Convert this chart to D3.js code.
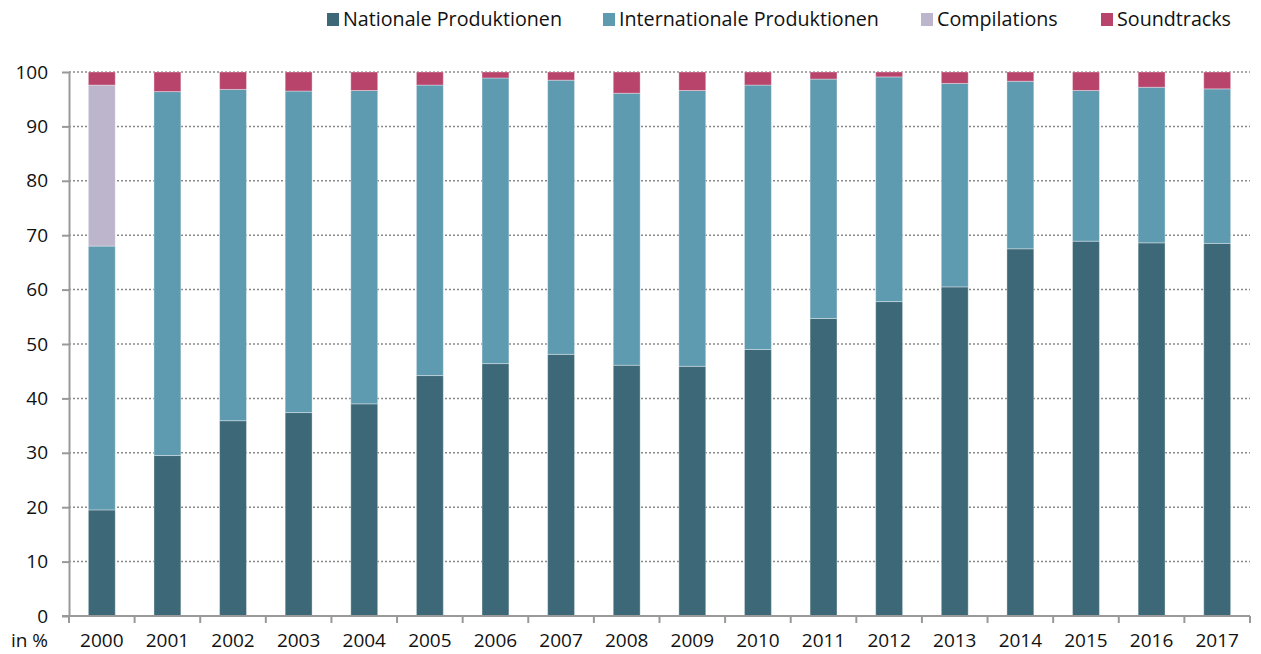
<!DOCTYPE html>
<html><head><meta charset="utf-8">
<script src="https://cdn.jsdelivr.net/npm/d3@7"></script>
<style>body{margin:0;background:#fff;}svg{display:block;font-family:"Open Sans",sans-serif;}</style>
</head><body><svg id="c" width="1261" height="654"></svg>
<script>
const years = ["2000","2001","2002","2003","2004","2005","2006","2007","2008","2009","2010","2011","2012","2013","2014","2015","2016","2017"];
const national = [19.5,29.5,35.9,37.4,39.0,44.2,46.4,48.1,46.1,45.9,49.0,54.7,57.8,60.5,67.5,68.9,68.6,68.5];
const international = [48.5,66.9,60.9,59.1,57.6,53.4,52.5,50.4,50.0,50.7,48.6,44.0,41.3,37.4,30.8,27.7,28.6,28.4];
const compilations = [29.6,0,0,0,0,0,0,0,0,0,0,0,0,0,0,0,0,0];
const soundtracks = [2.4,3.6,3.2,3.5,3.4,2.4,1.1,1.5,3.9,3.4,2.4,1.3,0.9,2.1,1.7,3.4,2.8,3.1];
const seriesNames = ["Nationale Produktionen","Internationale Produktionen","Compilations","Soundtracks"];
const colors = ["#3d6878","#5e9ab0","#bdb5cb","#b8446c"];
const yTicks = [0,10,20,30,40,50,60,70,80,90,100];

const svg = d3.select("#c");
const m = {l:69, r:11, t:72, b:38};
const W = 1261, H = 654;
const x = d3.scaleBand().domain(years).range([m.l, W-m.r]).paddingInner(0.59).paddingOuter(0.295);
const y = d3.scaleLinear().domain([0,100]).range([H-m.b, m.t]);

// gridlines
svg.append("g").selectAll("line").data(yTicks.filter(d=>d>0)).join("line")
  .attr("x1", m.l).attr("x2", W-m.r).attr("y1", d=>y(d)).attr("y2", d=>y(d))
  .attr("stroke","#8a8a8a").attr("stroke-width",1.5).attr("stroke-dasharray","2,2");

const table = years.map((yr,i)=>({year:yr, s0:national[i], s1:international[i], s2:compilations[i], s3:soundtracks[i]}));
const stack = d3.stack().keys(["s0","s1","s2","s3"])(table);
svg.append("g").selectAll("g").data(stack).join("g").attr("fill",(d,i)=>colors[i])
  .selectAll("rect").data(d=>d.filter(p=>p[1]-p[0]>0)).join("rect")
  .attr("x", d=>x(d.data.year)).attr("width", x.bandwidth())
  .attr("y", d=>y(d[1])).attr("height", d=>y(d[0])-y(d[1]))
  .attr("stroke","rgba(255,255,255,0.35)").attr("stroke-width",1);

// y axis
const ya = svg.append("g").attr("transform",`translate(${m.l},0)`)
  .call(d3.axisLeft(y).tickValues(yTicks).tickSize(7).tickPadding(14).tickSizeOuter(0));
ya.select(".domain").attr("stroke","#999").attr("stroke-width",2);
ya.selectAll(".tick line").attr("stroke","#999").attr("stroke-width",2);
ya.selectAll("text").attr("font-size",19).attr("fill","#111").attr("font-family","Open Sans");

// x axis
const xa = svg.append("g").attr("transform",`translate(0,${H-m.b})`);
xa.append("line").attr("x1",m.l-7).attr("x2",W-m.r).attr("stroke","#999").attr("stroke-width",2);
const step = x.step();
const bounds = d3.range(years.length+1).map(i=>m.l + i*step);
xa.selectAll(".tk").data(bounds).join("line").attr("class","tk")
  .attr("x1",d=>d).attr("x2",d=>d).attr("y1",0).attr("y2",7).attr("stroke","#999").attr("stroke-width",2);
xa.selectAll(".lb").data(years).join("text").attr("class","lb")
  .attr("x",d=>x(d)+x.bandwidth()/2).attr("y",31).attr("text-anchor","middle")
  .attr("font-size",19).attr("fill","#111").text(d=>d);
svg.append("text").attr("x",48).attr("y",H-m.b+31).attr("text-anchor","end")
  .attr("font-size",19).attr("fill","#111").text("in %");

// legend
const legX = [327,603,921,1101];
const lg = svg.append("g").selectAll("g").data(seriesNames).join("g")
  .attr("transform",(d,i)=>`translate(${legX[i]},0)`);
lg.append("rect").attr("x",0).attr("y",13).attr("width",12).attr("height",13).attr("fill",(d,i)=>colors[i]);
lg.append("text").attr("x",16).attr("y",26).attr("font-size",19.7).attr("fill","#111").text(d=>d);
</script></body></html>
